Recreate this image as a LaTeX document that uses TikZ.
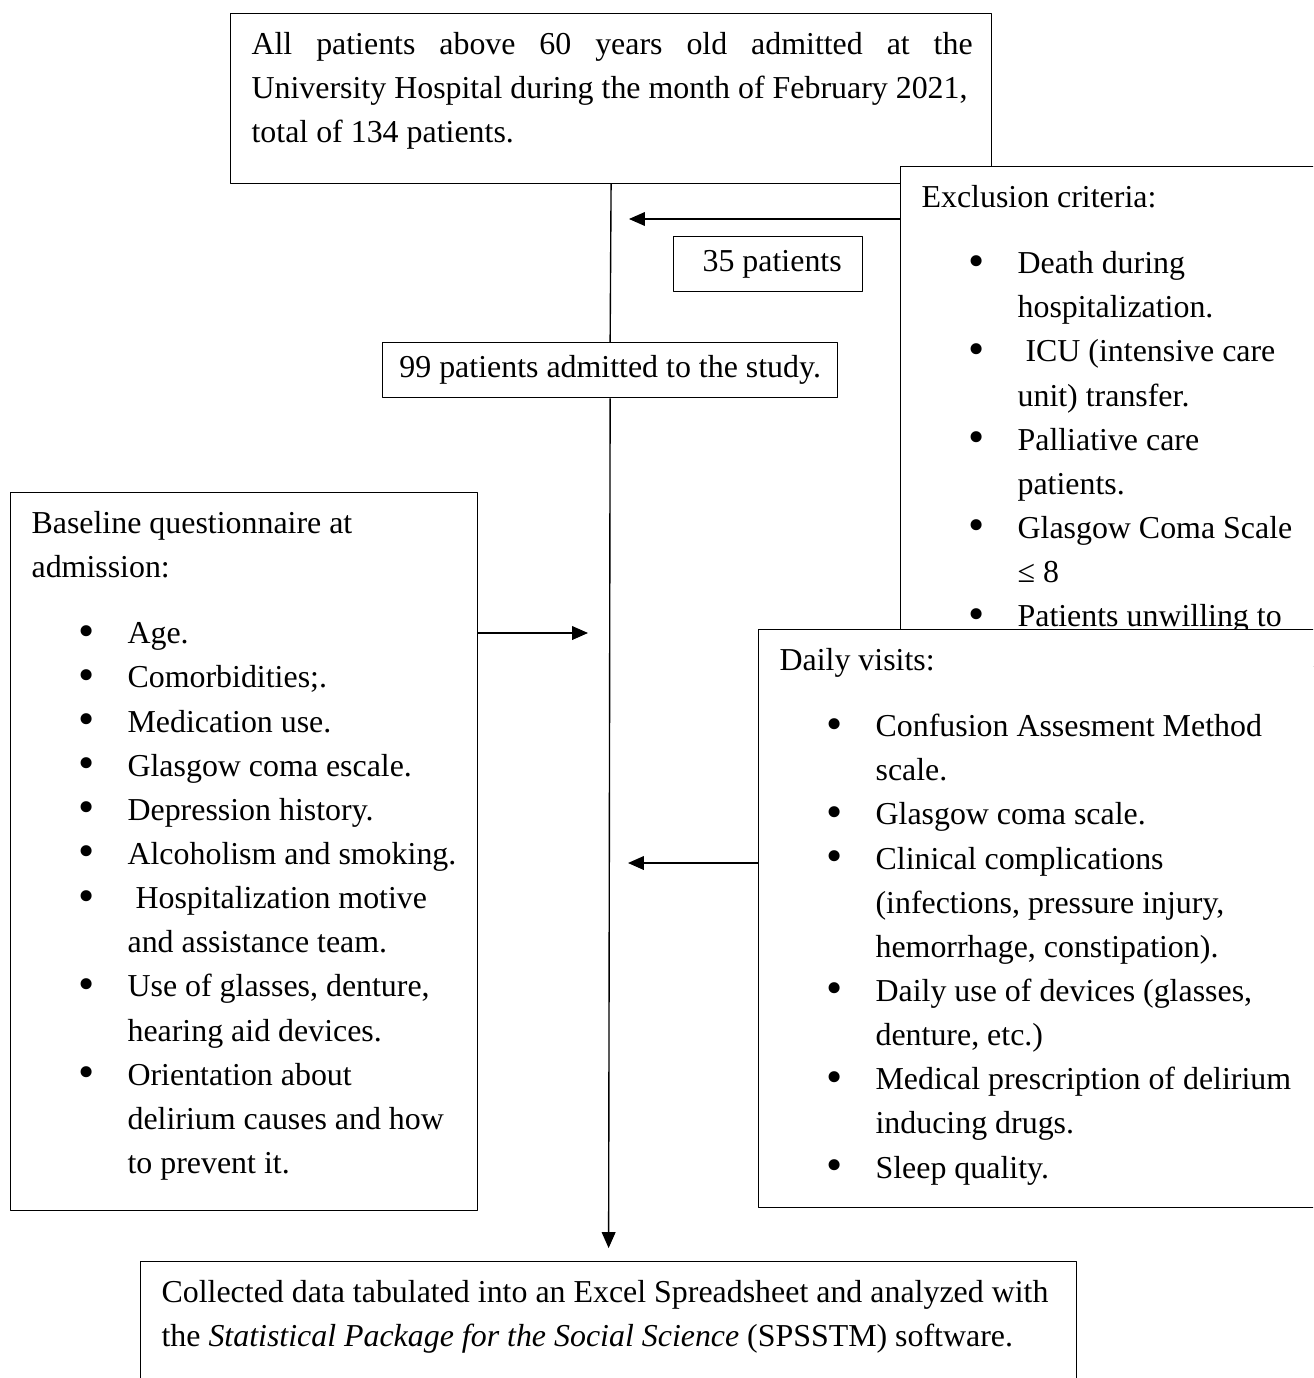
\documentclass[tikz,border=0pt]{standalone}
\usepackage{fontspec}
\usepackage{graphicx}
\setmainfont{Liberation Serif}
\usetikzlibrary{arrows.meta}
\newlength\pxu
\setlength\pxu{0.3636pt}
\newcommand{\boxtext}[3]{\makebox[#1\pxu][l]{\parbox[t][#2\pxu][t]{\dimexpr#1\pxu+80\pxu\relax}{\raggedright\strut #3}}}
\newcommand{\bitem}[1]{\par\noindent\hangindent=96\pxu\hangafter=1\hspace*{47\pxu}\makebox[49\pxu][l]{\raisebox{-0.9pt}{\scalebox{1.45}{\textbullet}}}#1}
\tikzset{
	panel/.style={draw, fill=white, line width=0.5pt, inner xsep=7.6pt, inner ysep=3.6pt},
	flow/.style={draw, line width=0.5pt, -{Triangle[length=5.8pt,width=5pt]}}
}
\begin{document}
\begin{tikzpicture}[x=0.3636pt, y=-0.3636pt, font=\fontsize{11.6}{16.05}\selectfont, line join=round]
	\useasboundingbox (0,0) rectangle (1313,1378);
	\clip (0,0) rectangle (1313,1378);
	\node[panel, anchor=north west] (all) at (230,13) {\boxtext{719}{150}{\makebox[721\pxu][s]{All patients above 60 years old admitted at the}\newline University Hospital during the month of February 2021,\newline total of 134 patients.}};
	\node[panel, anchor=north west] (excl) at (900,166) {\boxtext{388}{480}{Exclusion criteria:\par\vspace{22\pxu}
		\bitem{Death during\newline hospitalization.}
		\bitem{\ ICU (intensive care\newline unit) transfer.}
		\bitem{Palliative care\newline patients.}
		\bitem{Glasgow Coma Scale\newline ≤ 8}
		\bitem{Patients unwilling to}}};
	\node[panel, anchor=north west, inner xsep=2pt, minimum width=68.7pt, minimum height=20pt] (thirtyfive) at (673,236) {\ 35 patients};
	\node[panel, anchor=north west, inner xsep=2pt, minimum width=165.4pt, minimum height=20pt] (ninetynine) at (382,342) {99 patients admitted to the study.};
	\node[panel, anchor=north west] (base) at (10,492) {\boxtext{425}{698}{Baseline questionnaire at\newline admission:\par\vspace{22\pxu}
		\bitem{Age.}
		\bitem{Comorbidities;.}
		\bitem{Medication use.}
		\bitem{Glasgow coma escale.}
		\bitem{Depression history.}
		\bitem{Alcoholism and smoking.}
		\bitem{\ Hospitalization motive\newline and assistance team.}
		\bitem{Use of glasses, denture,\newline hearing aid devices.}
		\bitem{Orientation about\newline delirium causes and how\newline to prevent it.}}};
	\node[panel, anchor=north west] (daily) at (758,629) {\boxtext{530}{558}{Daily visits:\par\vspace{22\pxu}
		\bitem{Confusion Assesment Method\newline scale.}
		\bitem{Glasgow coma scale.}
		\bitem{Clinical complications\newline (infections, pressure injury,\newline hemorrhage, constipation).}
		\bitem{Daily use of devices (glasses,\newline denture, etc.)}
		\bitem{Medical prescription of delirium\newline inducing drugs.}
		\bitem{Sleep quality.}}};
	\node[panel, anchor=north west] (final) at (140,1261) {\boxtext{894}{130}{Collected data tabulated into an Excel Spreadsheet and analyzed with\newline the \textit{Statistical Package for the Social Science} (SPSSTM) software.}};
	\coordinate (exclin) at (629,219);
	\coordinate (basein) at (588,633);
	\coordinate (dailyin) at (628,863);
	\draw[line width=0.5pt] (all.south) -- (ninetynine.north);
	\draw[flow] (excl.west |- exclin) -- (exclin);
	\draw[flow, shorten >=4.7pt] (ninetynine.south) -- (final.north);
	\draw[flow] (base.east |- basein) -- (basein);
	\draw[flow] (daily.west |- dailyin) -- (dailyin);
\end{tikzpicture}
\end{document}
